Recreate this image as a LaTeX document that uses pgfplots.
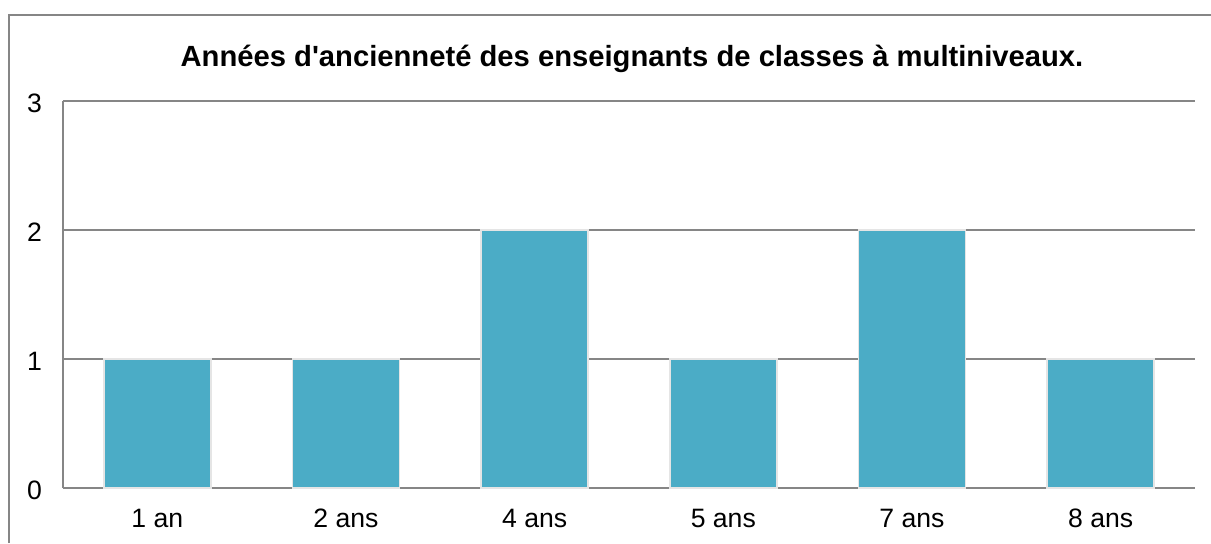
\documentclass[border=0pt]{standalone}
\usepackage{fontspec}
\setmainfont{Liberation Sans}
\usepackage{pgfplots}
\pgfplotsset{compat=1.18}
\definecolor{barc}{HTML}{4BACC6}
\definecolor{gridc}{HTML}{868686}
\begin{document}
\begin{tikzpicture}[x=0.5pt,y=0.5pt]
\useasboundingbox (0,0) rectangle (1211,543);
\draw[gridc, line width=1.2pt] (9,0) -- (9,528) -- (1211,528);
\node[font=\bfseries\fontsize{14.6}{17}\selectfont] at (632,484) {Années d\textquotesingle ancienneté des enseignants de classes à multiniveaux.};
\begin{axis}[
  at={(31.5pt,27.5pt)}, anchor=south west,
  scale only axis, width=566pt, height=193.5pt,
  xmin=-0.5, xmax=5.5, ymin=0, ymax=3,
  ytick={0,1,2,3},
  xtick=data,
  xticklabels={1 an,2 ans,4 ans,5 ans,7 ans,8 ans},
  axis x line*=bottom, axis y line*=left,
  axis line style={gridc, line width=0.6pt, -},
  major tick length=0pt,
  ymajorgrids, grid style={gridc, line width=0.6pt},
  tick label style={font=\fontsize{13.3}{15}\selectfont},
  /pgf/number format/assume math mode=true,
  yticklabel style={xshift=-7pt, yshift=-1pt},
  xticklabel style={yshift=-7pt},
  ybar, bar width=53.5pt,
]
\addplot[fill=barc, draw=black!10, line width=0.8pt] coordinates {(0,1) (1,1) (2,2) (3,1) (4,2) (5,1)};
\end{axis}
\end{tikzpicture}
\end{document}
